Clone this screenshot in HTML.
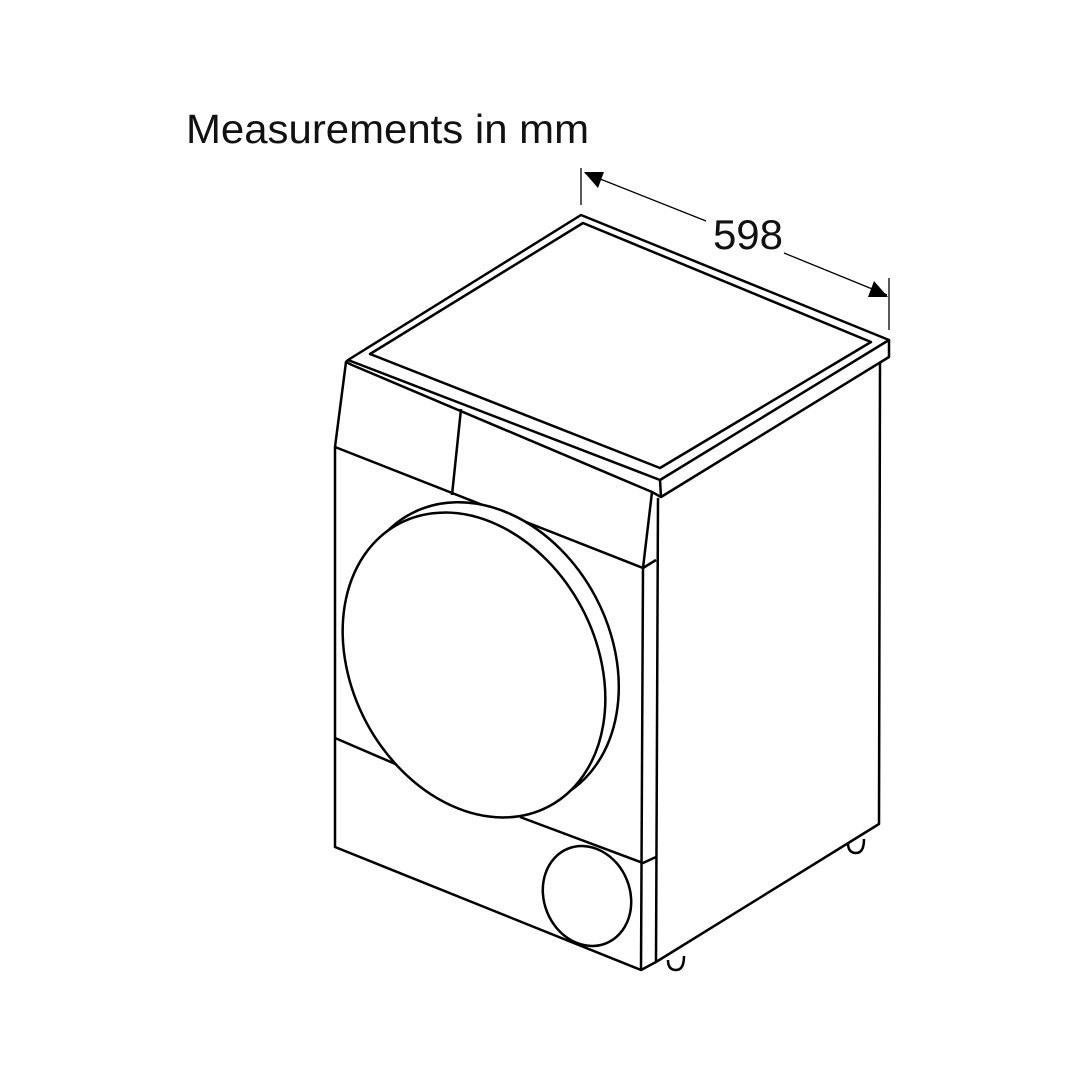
<!DOCTYPE html>
<html><head><meta charset="utf-8"><style>
html,body{margin:0;padding:0;background:#fff;}
svg{display:block}
</style></head><body>
<svg width="1080" height="1080" viewBox="0 0 1080 1080" xmlns="http://www.w3.org/2000/svg">
<rect width="1080" height="1080" fill="#fff"/>
<text x="186" y="143" font-family="Liberation Sans, sans-serif" font-size="41" fill="#111" textLength="403" lengthAdjust="spacingAndGlyphs">Measurements in mm</text>
<text x="748" y="249" text-anchor="middle" font-family="Liberation Sans, sans-serif" font-size="42" fill="#111">598</text>
<g stroke="#000" fill="none" stroke-width="1.3">
<line x1="581" y1="168" x2="581" y2="205"/>
<line x1="889" y1="278" x2="889" y2="330"/>
<line x1="585" y1="173" x2="706" y2="221"/>
<line x1="784" y1="253" x2="887" y2="295"/>
</g>
<polygon points="584,172 604,172 598,188" fill="#000"/>
<polygon points="888,297 868,297 874,281" fill="#000"/>
<g stroke="#000" fill="none" stroke-width="2.5" stroke-linejoin="round">
<polygon points="581,215 889,340 660,480 348,360" fill="#fff"/>
<polygon points="583,223 871,342 660,468 370,354"/>
<polyline points="348,360 346,362 352,365 652,492 661,497 889,357 889,340"/>
<line x1="660" y1="480" x2="661" y2="497"/>
<polyline points="880,363 879,824 656,962"/>
<line x1="658" y1="498" x2="656" y2="962"/>
<polyline points="346,362 335,447 335,847 641,970 656,962"/>
<line x1="335" y1="447" x2="643" y2="568"/>
<line x1="461" y1="409" x2="452" y2="495"/>
<line x1="652" y1="492" x2="643" y2="568"/>
<line x1="643" y1="568" x2="641" y2="970"/>
<line x1="643" y1="568" x2="656" y2="560"/>
<line x1="335" y1="738" x2="414" y2="772"/>
<polyline points="520,817 643,863 656,857"/>
<ellipse cx="486" cy="655" rx="124" ry="160" transform="rotate(-28 486 655)" fill="#fff"/>
<ellipse cx="474" cy="665" rx="122" ry="160" transform="rotate(-28 474 665)" fill="#fff"/>
<ellipse cx="587" cy="896" rx="43" ry="51" transform="rotate(-22 587 896)"/>
<path d="M668,960 q0,10 8,10 q8,0 8,-14"/>
<path d="M848,843 q0,10 8,10 q8,0 8,-14"/>
</g>
</svg>
</body></html>
